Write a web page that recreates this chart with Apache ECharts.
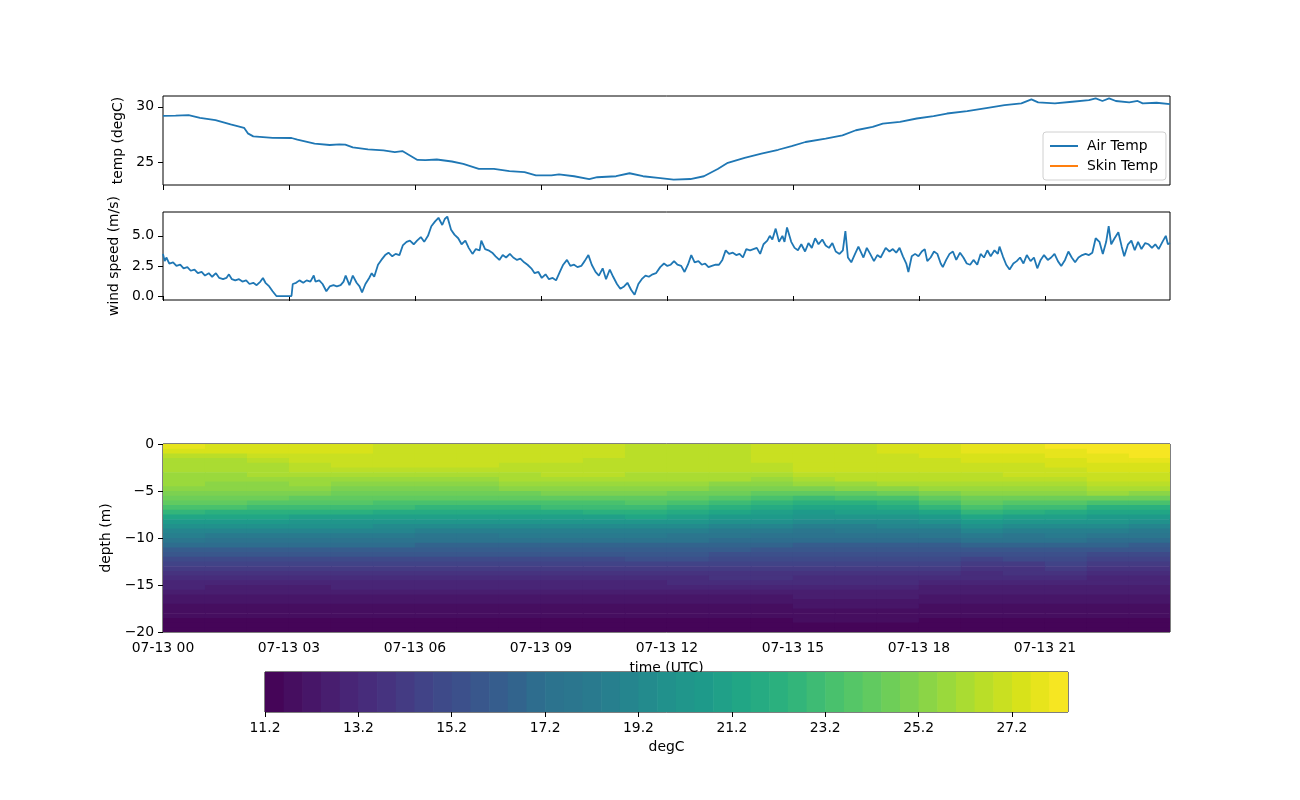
<!DOCTYPE html>
<html>
<head>
<meta charset="utf-8">
<script src="https://cdn.jsdelivr.net/npm/echarts@6/dist/echarts.min.js"></script>
<style>
html,body{margin:0;padding:0;background:#fff;}
#chart{width:1300px;height:800px;}
</style>
</head>
<body>
<div id="chart"></div>
<script>
// ---------------- data ----------------
const xTickHours = [0, 3, 6, 9, 12, 15, 18, 21];
const xTickLabels = ['07-13 00', '07-13 03', '07-13 06', '07-13 09', '07-13 12', '07-13 15', '07-13 18', '07-13 21'];
const tempTicks = [25, 30];
const windTicks = [0, 2.5, 5];
const depthTicks = [0, -5, -10, -15, -20];
const colorbarTicks = [11.2, 13.2, 15.2, 17.2, 19.2, 21.2, 23.2, 25.2, 27.2];
const colorLevels = [11.2, 11.6, 12.0, 12.4, 12.8, 13.2, 13.6, 14.0, 14.4, 14.8, 15.2, 15.6, 16.0, 16.4, 16.8,
  17.2, 17.6, 18.0, 18.4, 18.8, 19.2, 19.6, 20.0, 20.4, 20.8, 21.2, 21.6, 22.0, 22.4, 22.8, 23.2, 23.6, 24.0,
  24.4, 24.8, 25.2, 25.6, 26.0, 26.4, 26.8, 27.2, 27.6, 28.0, 28.4];

// air temperature (degC) vs hour of 07-13 UTC
const tempHours = [0, 0.3, 0.61, 0.88, 1.25, 1.61, 1.93, 2.02, 2.15, 2.61, 3.06, 3.2, 3.61, 3.97, 4.2, 4.34, 4.52, 4.88,
  5.25, 5.52, 5.7, 5.88, 6.06, 6.25, 6.52, 6.88, 7.15, 7.52, 7.88, 8.25, 8.61, 8.88, 9.25, 9.43, 9.79, 10.15,
  10.34, 10.79, 11.11, 11.43, 11.79, 12.16, 12.56, 12.88, 13.21, 13.45, 13.85, 14.25, 14.65, 14.97, 15.3, 15.78,
  16.18, 16.5, 16.9, 17.14, 17.55, 17.95, 18.35, 18.67, 19.15, 19.64, 20.04, 20.44, 20.68, 20.84, 21.24, 21.65,
  22.05, 22.21, 22.37, 22.53, 22.69, 23.01, 23.21, 23.33, 23.66, 23.98];
const airTemp = [29.18, 29.2, 29.24, 29.0, 28.79, 28.4, 28.1, 27.6, 27.33, 27.2, 27.18, 27.03, 26.67, 26.55, 26.6, 26.58, 26.33, 26.15,
  26.06, 25.9, 26.0, 25.6, 25.2, 25.18, 25.24, 25.06, 24.85, 24.4, 24.4, 24.2, 24.1, 23.8, 23.8, 23.9, 23.73, 23.48,
  23.64, 23.73, 24.0, 23.73, 23.58, 23.42, 23.48, 23.73, 24.39, 24.94, 25.39, 25.76, 26.12, 26.45, 26.82, 27.12,
  27.42, 27.88, 28.18, 28.48, 28.64, 28.94, 29.15, 29.39, 29.6, 29.9, 30.15, 30.3, 30.67, 30.39, 30.3, 30.45,
  30.6, 30.76, 30.52, 30.76, 30.52, 30.39, 30.52, 30.3, 30.36, 30.24];

// wind speed (m/s) vs hour
const windHours = [0.00, 0.04, 0.08, 0.15, 0.24, 0.32, 0.41, 0.49, 0.58, 0.66, 0.75, 0.83, 0.92, 1.00, 1.09, 1.17, 1.26, 1.34,
  1.43, 1.51, 1.57, 1.64, 1.72, 1.81, 1.89, 1.98, 2.06, 2.15, 2.23, 2.32, 2.38, 2.44, 2.53, 2.61, 2.70, 3.06, 3.09,
  3.17, 3.25, 3.34, 3.42, 3.51, 3.59, 3.63, 3.72, 3.80, 3.89, 3.97, 4.06, 4.14, 4.23, 4.30, 4.35, 4.44, 4.52, 4.61,
  4.68, 4.74, 4.82, 4.91, 4.97, 5.03, 5.12, 5.20, 5.29, 5.37, 5.46, 5.54, 5.63, 5.71, 5.80, 5.88, 5.97, 6.05, 6.14,
  6.22, 6.31, 6.39, 6.48, 6.56, 6.65, 6.71, 6.77, 6.86, 6.94, 7.03, 7.11, 7.20, 7.28, 7.37, 7.45, 7.54, 7.58, 7.67,
  7.75, 7.84, 7.92, 8.01, 8.09, 8.17, 8.26, 8.34, 8.43, 8.51, 8.60, 8.68, 8.77, 8.85, 8.94, 9.02, 9.11, 9.19, 9.28,
  9.36, 9.45, 9.53, 9.62, 9.70, 9.79, 9.87, 9.96, 10.04, 10.13, 10.21, 10.30, 10.38, 10.47, 10.55, 10.64, 10.72,
  10.81, 10.89, 10.98, 11.06, 11.15, 11.23, 11.32, 11.40, 11.49, 11.57, 11.66, 11.74,
  11.84, 11.93, 12.01, 12.09, 12.17, 12.25, 12.34, 12.42, 12.50, 12.58, 12.66, 12.75, 12.83, 12.91, 12.99, 13.07,
  13.16, 13.24, 13.32, 13.40, 13.48, 13.57, 13.65, 13.73, 13.81, 13.89, 13.98, 14.06, 14.14, 14.22, 14.30, 14.39,
  14.45, 14.51, 14.59, 14.67, 14.75, 14.80, 14.86, 14.96, 15.04, 15.12, 15.20, 15.29, 15.37, 15.45, 15.53, 15.61,
  15.70, 15.78, 15.86, 15.94, 16.02, 16.11, 16.19, 16.25, 16.31, 16.39, 16.48, 16.56, 16.68, 16.76, 16.84, 16.93,
  17.01, 17.09, 17.21, 17.30, 17.38, 17.46, 17.54, 17.62, 17.70, 17.75, 17.83, 17.91, 17.99, 18.07, 18.14, 18.20,
  18.28, 18.36, 18.44, 18.52, 18.57, 18.65, 18.73, 18.81, 18.89, 18.98, 19.06, 19.14, 19.22, 19.30, 19.39, 19.47,
  19.55, 19.63, 19.71, 19.80, 19.88, 19.92, 20.00, 20.08, 20.16, 20.25, 20.33, 20.41, 20.49, 20.57, 20.66, 20.74,
  20.82, 20.90, 20.98, 21.07, 21.15, 21.23, 21.31, 21.39, 21.48, 21.56, 21.64, 21.72, 21.80, 21.89, 21.97, 22.05,
  22.13, 22.21, 22.30, 22.38, 22.46, 22.52, 22.58, 22.66, 22.75, 22.83, 22.89, 22.98, 23.06, 23.14, 23.22, 23.30,
  23.39, 23.47, 23.55, 23.63, 23.71, 23.80, 23.88, 23.93, 23.98];
const windSpeed = [3.5, 2.9, 3.2, 2.7, 2.8, 2.5, 2.6, 2.3, 2.4, 2.1, 2.2, 1.9, 2.0, 1.7, 1.9, 1.6, 1.9, 1.5,
  1.4, 1.5, 1.8, 1.4, 1.3, 1.4, 1.2, 1.3, 1.0, 1.1, 0.9, 1.2, 1.5, 1.1, 0.8, 0.4, 0.0, 0.0, 1.0,
  1.1, 1.3, 1.1, 1.3, 1.2, 1.7, 1.2, 1.3, 1.0, 0.4, 0.8, 0.9, 0.8, 0.9, 1.2, 1.7, 0.9, 1.7, 1.1,
  0.8, 0.3, 1.0, 1.5, 1.9, 1.6, 2.6, 3.0, 3.4, 3.6, 3.3, 3.5, 3.4, 4.2, 4.5, 4.6, 4.3, 4.6, 4.9,
  4.5, 5.0, 5.8, 6.2, 6.5, 5.9, 6.4, 6.6, 5.5, 5.1, 4.8, 4.3, 4.6, 4.0, 3.5, 3.9, 3.8, 4.6, 3.9,
  3.8, 3.6, 3.3, 3.0, 3.4, 3.2, 3.5, 3.2, 3.0, 3.1, 2.8, 2.6, 2.3, 1.9, 2.0, 1.5, 1.8, 1.4, 1.5,
  1.3, 2.0, 2.6, 3.0, 2.5, 2.6, 2.4, 2.5, 2.9, 3.4, 2.6, 2.0, 1.7, 2.3, 1.4, 2.2, 1.6,
  1.0, 0.6, 0.8, 1.1, 0.5, 0.1, 1.0, 1.4, 1.7, 1.6, 1.8, 1.9,
  2.4, 2.7, 2.5, 2.6, 2.9, 2.6, 2.5, 2.0, 2.6, 3.4, 2.8, 2.9, 2.6, 2.7, 2.4, 2.5,
  2.6, 2.6, 3.0, 3.8, 3.5, 3.6, 3.4, 3.5, 3.2, 3.9, 3.8, 3.9, 4.0, 3.5, 4.3, 4.6,
  5.0, 4.7, 5.6, 4.5, 5.0, 4.5, 5.7, 4.5, 4.0, 3.8, 4.3, 3.7, 4.4, 4.0, 4.8, 4.3,
  4.7, 4.2, 4.0, 4.4, 3.7, 3.5, 3.8, 5.4, 3.2, 2.8, 3.5, 4.1, 3.2, 4.0, 3.5, 2.9,
  3.4, 3.2, 4.0, 3.7, 3.9, 3.6, 4.0, 3.3, 2.7, 2.0, 3.3, 3.5, 3.3, 3.7, 3.9, 2.9,
  3.2, 3.7, 3.5, 2.7, 2.4, 3.0, 3.5, 3.7, 3.0, 3.6, 3.2, 2.7, 2.6, 3.0, 2.6, 3.5,
  3.2, 3.8, 3.3, 3.8, 3.5, 4.1, 3.3, 2.6, 2.2, 2.7, 2.9, 3.2, 2.7, 3.4, 2.9, 3.2,
  2.3, 3.0, 3.4, 3.0, 3.2, 3.5, 2.9, 2.5, 3.0, 3.7, 3.2, 2.8, 3.2, 3.4, 3.5, 3.4,
  3.6, 4.8, 4.5, 3.5, 4.5, 5.8, 4.3, 4.8, 5.3, 4.1, 3.3, 4.3, 4.6, 3.8, 4.5, 3.9,
  4.4, 4.3, 4.0, 4.3, 3.9, 4.5, 5.0, 4.3, 4.4];

// sea temperature (degC): one profile per hour bin, rows from surface downward
const hourEdges = [0, 1, 2, 3, 4, 5, 6, 7, 8, 9, 10, 11, 12, 13, 14, 15, 16, 17, 18, 19, 20, 21, 22, 23, 24];
const depthEdges = [0, -0.5, -1, -1.5, -2, -2.5, -3, -3.5, -4, -4.5, -5, -5.5, -6, -6.5, -7, -7.5, -8, -8.5, -9, -9.5,
  -10, -10.5, -11, -11.5, -12, -12.5, -13, -13.5, -14, -14.5, -15, -15.5, -16, -16.5, -17, -17.5, -18, -18.5, -19, -19.5, -20];
const seaTempByHour = [
  [27.6,27.3,26.6,26.2,26.0,26.0,25.9,25.8,25.6,25.4,25.1,24.7,24.2,23.4,22.4,21.5,20.7,19.9,19.1,18.4,17.6,16.9,16.2,15.7,15.1,14.6,14.2,13.8,13.4,13.1,12.8,12.5,12.3,12.1,11.9,11.8,11.6,11.5,11.4,11.3],
  [27.4,27.2,26.4,26.1,26.0,26.0,25.9,25.8,25.5,25.3,25.0,24.6,24.0,23.2,22.3,21.4,20.5,19.8,19.0,18.3,17.5,16.8,16.1,15.6,15.0,14.6,14.1,13.7,13.3,13.0,12.7,12.5,12.3,12.1,11.9,11.8,11.6,11.5,11.4,11.3],
  [27.4,27.2,26.8,26.5,26.3,26.2,26.0,25.8,25.5,25.2,24.9,24.4,23.8,23.0,22.1,21.2,20.4,19.7,18.9,18.2,17.5,16.8,16.1,15.6,15.0,14.6,14.1,13.7,13.3,13.0,12.7,12.5,12.3,12.1,11.9,11.8,11.6,11.5,11.4,11.3],
  [27.3,27.2,27.1,26.9,26.7,26.5,26.2,25.9,25.6,25.2,24.8,24.3,23.7,22.9,22.0,21.1,20.3,19.6,18.9,18.2,17.5,16.8,16.2,15.6,15.1,14.6,14.2,13.8,13.4,13.0,12.7,12.5,12.3,12.1,11.9,11.8,11.6,11.5,11.4,11.3],
  [27.2,27.2,27.1,27.0,26.8,26.5,26.2,25.9,25.5,25.1,24.7,24.2,23.6,22.8,22.0,21.1,20.3,19.6,18.9,18.2,17.5,16.9,16.2,15.7,15.1,14.7,14.2,13.8,13.4,13.1,12.8,12.5,12.3,12.1,11.9,11.8,11.6,11.5,11.4,11.3],
  [27.1,27.1,27.0,26.9,26.8,26.5,26.2,25.9,25.5,25.1,24.7,24.1,23.5,22.8,21.9,21.1,20.3,19.5,18.8,18.1,17.5,16.8,16.2,15.7,15.1,14.7,14.2,13.8,13.4,13.1,12.8,12.5,12.3,12.1,11.9,11.8,11.6,11.5,11.4,11.3],
  [27.0,27.0,27.0,26.9,26.8,26.6,26.2,25.9,25.5,25.1,24.6,24.0,23.3,22.6,21.8,20.9,20.1,19.3,18.6,17.9,17.3,16.7,16.1,15.6,15.1,14.6,14.2,13.8,13.4,13.1,12.8,12.5,12.3,12.1,11.9,11.8,11.6,11.5,11.4,11.3],
  [27.0,27.0,27.0,26.9,26.8,26.6,26.3,25.9,25.5,25.1,24.6,24.0,23.3,22.6,21.8,20.9,20.1,19.3,18.6,17.9,17.3,16.7,16.1,15.6,15.1,14.6,14.2,13.8,13.4,13.1,12.8,12.5,12.3,12.1,11.9,11.7,11.6,11.5,11.4,11.3],
  [26.9,26.9,26.9,26.8,26.7,26.6,26.3,26.0,25.6,25.2,24.7,24.1,23.4,22.7,21.9,21.0,20.2,19.4,18.7,18.0,17.3,16.7,16.1,15.6,15.1,14.6,14.2,13.8,13.4,13.1,12.8,12.5,12.3,12.1,11.9,11.7,11.6,11.5,11.4,11.3],
  [26.8,26.8,26.8,26.8,26.7,26.6,26.4,26.1,25.7,25.3,24.8,24.2,23.5,22.8,21.9,21.0,20.2,19.4,18.7,18.0,17.3,16.7,16.1,15.6,15.1,14.7,14.2,13.8,13.4,13.1,12.8,12.5,12.3,12.1,11.9,11.7,11.6,11.5,11.4,11.3],
  [26.8,26.8,26.8,26.7,26.7,26.6,26.4,26.1,25.7,25.3,24.8,24.2,23.5,22.8,22.0,21.1,20.3,19.5,18.7,18.0,17.3,16.7,16.1,15.6,15.1,14.7,14.2,13.8,13.4,13.1,12.8,12.5,12.3,12.1,11.9,11.7,11.6,11.5,11.4,11.3],
  [26.7,26.7,26.7,26.7,26.6,26.5,26.3,26.0,25.7,25.3,24.8,24.2,23.6,22.9,22.1,21.2,20.3,19.5,18.7,18.0,17.3,16.7,16.1,15.6,15.2,14.7,14.3,13.9,13.5,13.1,12.8,12.5,12.3,12.1,11.9,11.7,11.6,11.5,11.4,11.3],
  [26.7,26.7,26.7,26.7,26.6,26.5,26.3,26.0,25.6,25.2,24.7,24.1,23.4,22.6,21.7,20.8,20.0,19.2,18.5,17.8,17.2,16.6,16.1,15.6,15.2,14.7,14.3,13.9,13.5,13.2,12.9,12.6,12.3,12.1,11.9,11.7,11.6,11.5,11.4,11.3],
  [26.7,26.7,26.7,26.7,26.6,26.5,26.3,26.0,25.5,25.0,24.4,23.7,23.0,22.2,21.3,20.5,19.7,18.9,18.2,17.6,17.0,16.5,16.0,15.5,15.1,14.7,14.3,13.9,13.6,13.2,12.9,12.6,12.3,12.1,11.9,11.7,11.6,11.5,11.4,11.3],
  [26.8,26.8,26.8,26.8,26.7,26.6,26.3,25.9,25.4,24.8,24.1,23.4,22.7,21.9,21.1,20.4,19.6,18.9,18.2,17.5,16.9,16.4,15.9,15.5,15.1,14.7,14.3,13.9,13.6,13.2,12.9,12.6,12.3,12.1,11.9,11.7,11.6,11.5,11.4,11.3],
  [26.9,26.9,26.8,26.8,26.8,26.8,26.7,26.3,25.8,25.0,24.0,23.0,22.0,21.3,20.6,20.0,19.2,18.6,17.9,17.4,16.8,16.3,15.8,15.4,15.0,14.6,14.2,13.8,13.5,13.2,12.9,12.7,12.4,12.2,12.0,11.8,11.7,11.6,11.4,11.3],
  [27.0,27.0,26.9,26.9,26.8,26.8,26.7,26.4,25.9,25.2,24.3,23.3,22.3,21.5,20.8,20.1,19.4,18.7,18.0,17.4,16.8,16.3,15.8,15.4,15.0,14.6,14.2,13.8,13.5,13.2,12.9,12.6,12.4,12.2,12.0,11.8,11.7,11.6,11.4,11.3],
  [27.3,27.2,27.1,27.0,26.9,26.8,26.7,26.4,26.0,25.3,24.4,23.4,22.4,21.6,20.9,20.2,19.5,18.8,18.1,17.5,16.9,16.3,15.8,15.4,15.0,14.6,14.2,13.8,13.5,13.2,12.9,12.6,12.4,12.2,12.0,11.8,11.7,11.6,11.4,11.3],
  [27.5,27.4,27.2,27.1,27.0,26.9,26.7,26.5,26.1,25.6,25.0,24.2,23.3,22.4,21.5,20.7,19.9,19.1,18.3,17.6,16.9,16.3,15.8,15.3,14.8,14.4,14.0,13.6,13.3,13.0,12.7,12.5,12.3,12.1,11.9,11.8,11.6,11.5,11.4,11.3],
  [27.7,27.6,27.4,27.2,27.0,26.9,26.7,26.5,26.2,25.8,25.3,24.7,24.0,23.3,22.4,21.4,20.6,19.7,18.8,18.0,17.2,16.5,15.8,15.2,14.7,14.2,13.8,13.5,13.2,12.9,12.6,12.4,12.2,12.0,11.9,11.7,11.6,11.5,11.4,11.3],
  [27.8,27.7,27.5,27.3,27.1,26.9,26.8,26.5,26.2,25.8,25.2,24.5,23.7,22.9,22.0,21.1,20.3,19.5,18.7,17.9,17.2,16.5,15.9,15.3,14.8,14.3,13.9,13.6,13.2,12.9,12.7,12.4,12.2,12.0,11.9,11.7,11.6,11.5,11.4,11.3],
  [28.0,27.8,27.6,27.4,27.2,27.0,26.9,26.6,26.3,25.9,25.3,24.6,23.7,22.8,21.9,21.0,20.2,19.5,18.7,18.0,17.2,16.5,15.9,15.3,14.8,14.4,14.0,13.6,13.3,13.0,12.7,12.5,12.3,12.1,11.9,11.8,11.6,11.5,11.4,11.3],
  [28.1,28.0,27.8,27.7,27.4,27.3,27.1,26.9,26.5,26.2,25.6,24.7,23.4,22.3,21.5,20.7,20.0,19.4,18.5,17.9,17.0,16.4,15.6,15.1,14.6,14.2,13.8,13.4,13.1,12.9,12.7,12.4,12.2,12.0,11.9,11.8,11.6,11.5,11.4,11.3],
  [28.3,28.2,28.0,27.8,27.5,27.3,27.1,26.9,26.6,26.2,25.5,24.5,23.2,22.2,21.3,20.5,19.8,19.1,18.3,17.6,16.9,16.2,15.6,15.1,14.6,14.2,13.8,13.4,13.1,12.9,12.7,12.4,12.2,12.0,11.9,11.8,11.6,11.5,11.4,11.3]
];

// ---------------- style helpers ----------------
const VIRIDIS = ['#440154','#471365','#482475','#46337f','#414487','#3b528b','#355f8d','#2c728e','#2a788e','#25848e',
  '#21918c','#1e9b8a','#22a884','#2db27d','#44bf70','#5ec962','#7ad151','#9bd93c','#bddf26','#dde318','#fde725'];
const VSTOPS = [0,0.05,0.1,0.15,0.2,0.25,0.3,0.35,0.4,0.45,0.5,0.55,0.6,0.65,0.7,0.75,0.8,0.85,0.9,0.95,1.0];
function hex2rgb(h){return [parseInt(h.slice(1,3),16),parseInt(h.slice(3,5),16),parseInt(h.slice(5,7),16)];}
function viridis(f){
  f = Math.max(0, Math.min(1, f));
  let i = 0;
  while (i < VSTOPS.length - 2 && f > VSTOPS[i+1]) i++;
  const t = (f - VSTOPS[i]) / (VSTOPS[i+1] - VSTOPS[i]);
  const a = hex2rgb(VIRIDIS[i]), b = hex2rgb(VIRIDIS[i+1]);
  const c = a.map((v, k) => Math.round(v + (b[k] - v) * t));
  return 'rgb(' + c.join(',') + ')';
}
const nBands = colorLevels.length - 1;
const pieces = [];
for (let i = 0; i < nBands; i++) {
  pieces.push({ gte: colorLevels[i], lt: colorLevels[i + 1], color: viridis((i + 0.5) / nBands) });
}

// heatmap cells built from the data arrays
const cellData = [];
for (let h = 0; h < seaTempByHour.length; h++) {
  for (let r = 0; r < seaTempByHour[h].length; r++) {
    cellData.push([hourEdges[h], hourEdges[h + 1], depthEdges[r], depthEdges[r + 1], seaTempByHour[h][r]]);
  }
}
const bandData = [];
for (let i = 0; i < nBands; i++) {
  bandData.push([colorLevels[i], colorLevels[i + 1], 0, 1, (colorLevels[i] + colorLevels[i + 1]) / 2]);
}

function renderRect(params, api) {
  const a = api.coord([api.value(0), api.value(2)]);
  const b = api.coord([api.value(1), api.value(3)]);
  return {
    type: 'rect',
    shape: { x: Math.min(a[0], b[0]), y: Math.min(a[1], b[1]),
             width: Math.abs(b[0] - a[0]) + 0.6, height: Math.abs(b[1] - a[1]) + 0.6 },
    style: { fill: api.visual('color') }
  };
}

const FS = 13.9;
const FONT = 'DejaVu Sans';
const XMAX = 23.98;
const minus = v => (v < 0 ? '\u2212' + Math.abs(v) : String(v));
const xLabel = v => { const i = xTickHours.indexOf(Math.round(v)); return i >= 0 ? xTickLabels[i] : ''; };

function timeAxis(gridIndex, showLabels) {
  return {
    type: 'value', gridIndex, min: 0, max: XMAX,
    axisLine: { show: false },
    splitLine: { show: false },
    axisTick: { show: true, length: 5, lineStyle: { color: '#000', width: 1 }, customValues: xTickHours },
    axisLabel: { show: showLabels, customValues: xTickHours, formatter: xLabel, color: '#000', fontSize: FS, fontFamily: FONT, margin: 9 },
    name: showLabels ? 'time (UTC)' : '', nameLocation: 'middle', nameGap: 29,
    nameTextStyle: { color: '#000', fontSize: FS, fontFamily: FONT }
  };
}

const chart = echarts.init(document.getElementById('chart'), null, { renderer: 'canvas' });
const gridBase = { show: true, borderColor: '#000', borderWidth: 1, backgroundColor: 'transparent' };

chart.setOption({
  animation: false,
  backgroundColor: '#fff',
  textStyle: { fontFamily: FONT },
  grid: [
    Object.assign({ left: 163, width: 1007, top: 96, height: 89 }, gridBase),
    Object.assign({ left: 163, width: 1007, top: 212, height: 88 }, gridBase),
    Object.assign({ left: 163, width: 1007, top: 444, height: 188 }, gridBase),
    Object.assign({ left: 265, width: 803, top: 672, height: 40 }, gridBase)
  ],
  xAxis: [
    timeAxis(0, false),
    timeAxis(1, false),
    timeAxis(2, true),
    {
      type: 'value', gridIndex: 3, min: 11.2, max: 28.4,
      axisLine: { show: false }, splitLine: { show: false },
      axisTick: { show: true, length: 5, lineStyle: { color: '#000' }, customValues: colorbarTicks },
      axisLabel: { customValues: colorbarTicks, formatter: v => v.toFixed(1), color: '#000', fontSize: FS, fontFamily: FONT, margin: 9 },
      name: 'degC', nameLocation: 'middle', nameGap: 28,
      nameTextStyle: { color: '#000', fontSize: FS, fontFamily: FONT }
    }
  ],
  yAxis: [
    {
      type: 'value', gridIndex: 0, min: 22.94, max: 30.97,
      axisLine: { show: false }, splitLine: { show: false },
      axisTick: { show: true, length: 5, lineStyle: { color: '#000' }, customValues: tempTicks },
      axisLabel: { customValues: tempTicks, color: '#000', fontSize: FS, fontFamily: FONT, margin: 9 },
      name: 'temp (degC)', nameLocation: 'middle', nameRotate: 90, nameGap: 31,
      nameTextStyle: { color: '#000', fontSize: FS, fontFamily: FONT }
    },
    {
      type: 'value', gridIndex: 1, min: -0.33, max: 6.98,
      axisLine: { show: false }, splitLine: { show: false },
      axisTick: { show: true, length: 5, lineStyle: { color: '#000' }, customValues: windTicks },
      axisLabel: { customValues: windTicks, formatter: v => v.toFixed(1), color: '#000', fontSize: FS, fontFamily: FONT, margin: 9 },
      name: 'wind speed (m/s)', nameLocation: 'middle', nameRotate: 90, nameGap: 35,
      nameTextStyle: { color: '#000', fontSize: FS, fontFamily: FONT }
    },
    {
      type: 'value', gridIndex: 2, min: -20, max: 0,
      axisLine: { show: false }, splitLine: { show: false },
      axisTick: { show: true, length: 5, lineStyle: { color: '#000' }, customValues: depthTicks },
      axisLabel: { customValues: depthTicks, formatter: minus, color: '#000', fontSize: FS, fontFamily: FONT, margin: 9 },
      name: 'depth (m)', nameLocation: 'middle', nameRotate: 90, nameGap: 41,
      nameTextStyle: { color: '#000', fontSize: FS, fontFamily: FONT }
    },
    { type: 'value', gridIndex: 3, min: 0, max: 1, show: false }
  ],
  legend: {
    left: 1043, top: 132, orient: 'vertical',
    data: ['Air Temp', 'Skin Temp'],
    icon: 'rect', itemWidth: 28, itemHeight: 2, itemGap: 6,
    padding: [7, 8, 7, 7],
    backgroundColor: '#fff', borderColor: '#d0d0d0', borderWidth: 1, borderRadius: 3,
    textStyle: { color: '#000', fontSize: FS, fontFamily: FONT, padding: [0, 0, 0, 4] }
  },
  visualMap: {
    type: 'piecewise', show: false, dimension: 4, seriesIndex: [3, 4],
    pieces: pieces
  },
  series: [
    {
      name: 'Air Temp', type: 'line', xAxisIndex: 0, yAxisIndex: 0,
      data: tempHours.map((h, i) => [h, airTemp[i]]),
      showSymbol: false, symbol: 'none', color: '#1f77b4',
      lineStyle: { width: 1.8, color: '#1f77b4' }
    },
    {
      name: 'Skin Temp', type: 'line', xAxisIndex: 0, yAxisIndex: 0,
      data: [], showSymbol: false, symbol: 'none', color: '#ff7f0e',
      lineStyle: { width: 1.8, color: '#ff7f0e' }
    },
    {
      name: 'wind', type: 'line', xAxisIndex: 1, yAxisIndex: 1,
      data: windHours.map((h, i) => [h, windSpeed[i]]),
      showSymbol: false, symbol: 'none', color: '#1f77b4',
      lineStyle: { width: 1.8, color: '#1f77b4' }
    },
    {
      name: 'sea temp', type: 'custom', xAxisIndex: 2, yAxisIndex: 2,
      renderItem: renderRect, data: cellData, clip: true,
      encode: { x: [0, 1], y: [2, 3] }
    },
    {
      name: 'colorbar', type: 'custom', xAxisIndex: 3, yAxisIndex: 3,
      renderItem: renderRect, data: bandData, clip: true,
      encode: { x: [0, 1], y: [2, 3] }, z: 5
    }
  ]
});
</script>
</body>
</html>
